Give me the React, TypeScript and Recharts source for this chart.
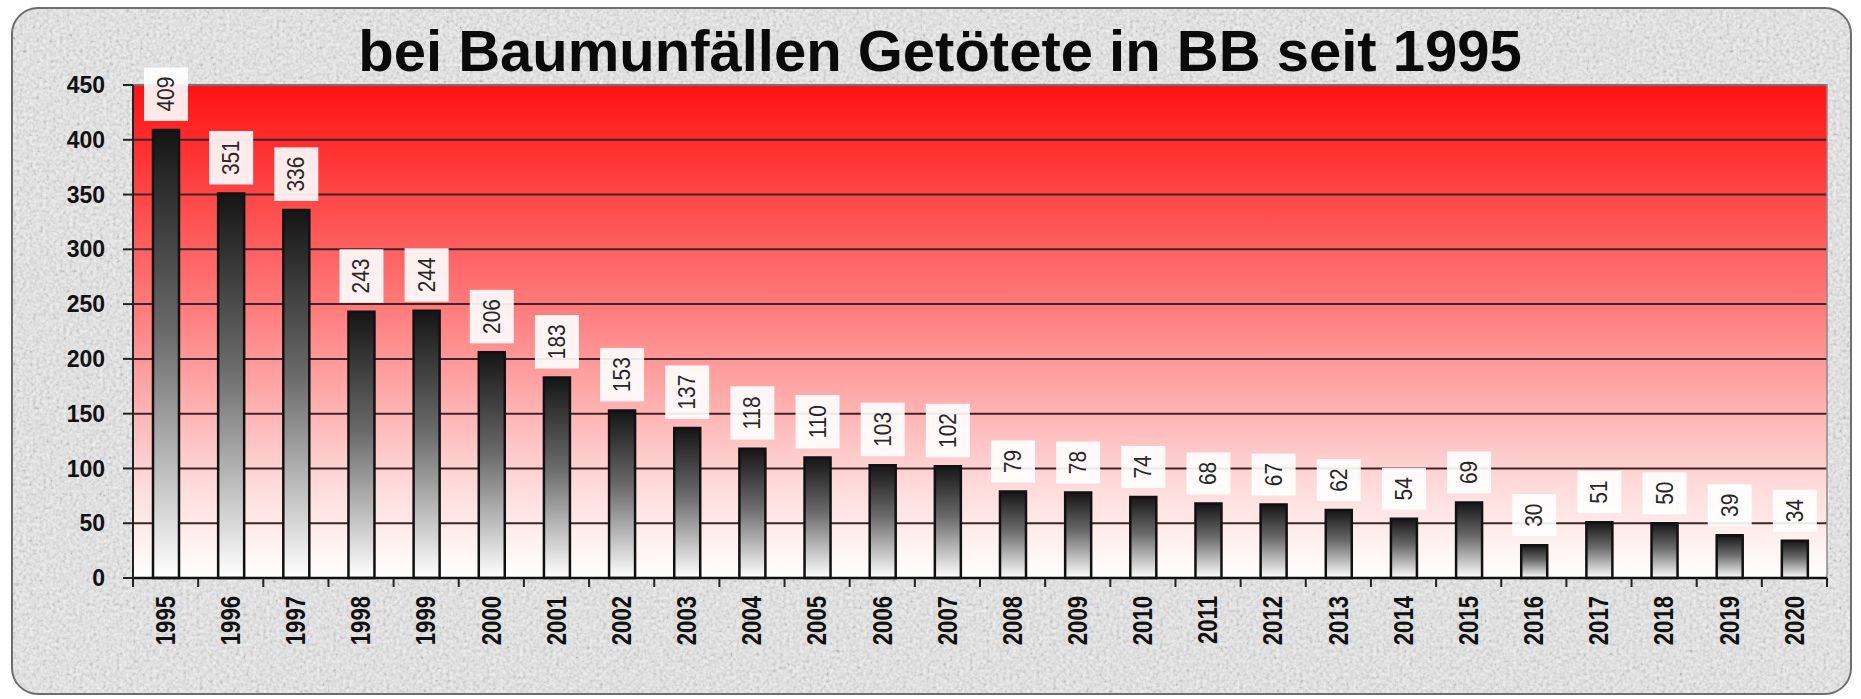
import React from 'react';
import { BarChart, Bar, XAxis, YAxis, CartesianGrid, LabelList, ReferenceArea } from 'recharts';

const title = 'bei Baumunfällen Getötete in BB seit 1995';
const years = ['1995', '1996', '1997', '1998', '1999', '2000', '2001', '2002', '2003', '2004', '2005', '2006', '2007', '2008', '2009', '2010', '2011', '2012', '2013', '2014', '2015', '2016', '2017', '2018', '2019', '2020'];
const killed = [409, 351, 336, 243, 244, 206, 183, 153, 137, 118, 110, 103, 102, 79, 78, 74, 68, 67, 62, 54, 69, 30, 51, 50, 39, 34];
const yTicks = [0, 50, 100, 150, 200, 250, 300, 350, 400, 450];

const data = years.map((year, i) => ({ year, killed: killed[i] }));

const W = 1861;
const H = 699;
const M = { top: 85, right: 34, bottom: 0, left: 0 };
const Y_AXIS_W = 133;
const X_AXIS_H = 121;
const PLOT_W = W - M.left - M.right - Y_AXIS_W;
const BAND = PLOT_W / years.length;

const SANS = "'Liberation Sans', Arial, sans-serif";

const XTick = (props: any) => {
  const { x, y, payload, index } = props;
  const last = index === years.length - 1;
  return (
    <g>
      <line x1={x - BAND / 2} x2={x - BAND / 2} y1={y} y2={y + 9} stroke="#222" strokeWidth={2} />
      {last && <line x1={x + BAND / 2} x2={x + BAND / 2} y1={y} y2={y + 9} stroke="#222" strokeWidth={2} />}
      <text
        transform={`translate(${x},${y + 18}) rotate(-90) scale(0.82,1)`}
        textAnchor="end"
        dominantBaseline="central"
        fontFamily={SANS}
        fontWeight="bold"
        fontSize={27}
        fill="#111"
      >
        {payload.value}
      </text>
    </g>
  );
};

const BarLabel = (props: any) => {
  const { x, y, width, value } = props;
  const s = String(value);
  const textLen = s.length * 11.5;
  const h = textLen + 19;
  const w = 44;
  const cx = x + width / 2;
  const bottom = y - 9;
  return (
    <g>
      <rect x={cx - w / 2} y={bottom - h} width={w} height={h} fill="#ffffff" fillOpacity={0.9} />
      <text
        transform={`translate(${cx},${bottom - h / 2}) rotate(-90) scale(0.87,1)`}
        textAnchor="middle"
        dominantBaseline="central"
        fontFamily={SANS}
        fontSize={24}
        fill="#262626"
      >
        {s}
      </text>
    </g>
  );
};

export default function App() {
  return (
    <div style={{ position: 'absolute', left: 0, top: 0, width: W, height: H, background: '#ffffff', overflow: 'hidden' }}>
      <svg width={W} height={H} style={{ position: 'absolute', left: 0, top: 0 }}>
        <defs>
          <filter id="speckle" x="0" y="0" width="100%" height="100%">
            <feTurbulence type="fractalNoise" baseFrequency="0.3" numOctaves="3" seed="7" result="n" />
            <feColorMatrix type="saturate" values="0" />
            <feComponentTransfer>
              <feFuncR type="linear" slope="2" intercept="-0.45" />
              <feFuncG type="linear" slope="2" intercept="-0.45" />
              <feFuncB type="linear" slope="2" intercept="-0.45" />
              <feFuncA type="linear" slope="0" intercept="1" />
            </feComponentTransfer>
          </filter>
          <clipPath id="frameClip">
            <rect x={12} y={8} width={1839} height={686} rx={26} ry={26} />
          </clipPath>
        </defs>
        <g clipPath="url(#frameClip)">
          <rect x={0} y={0} width={W} height={H} fill="#e8e8e8" />
          <rect x={0} y={0} width={W} height={H} filter="url(#speckle)" opacity={0.22} />
        </g>
        <rect x={12} y={8} width={1839} height={686} rx={26} ry={26} fill="none" stroke="#6e6e6e" strokeWidth={2} />
        <text x={940} y={71} textAnchor="middle" fontFamily={SANS} fontWeight="bold" fontSize={58} fill="#0a0a0a">
          {title}
        </text>
      </svg>
      <div style={{ position: 'absolute', left: 0, top: 0 }}>
        <BarChart width={W} height={H} data={data} margin={M} barCategoryGap={0}>
          <defs>
            <linearGradient id="plotBg" x1="0" y1="0" x2="0" y2="1">
              <stop offset="0%" stopColor="#ff1212" />
              <stop offset="45%" stopColor="#ff7b7b" />
              <stop offset="80%" stopColor="#ffd8d8" />
              <stop offset="100%" stopColor="#ffffff" />
            </linearGradient>
            <linearGradient id="barGrad" x1="0" y1="0" x2="0" y2="1">
              <stop offset="0%" stopColor="#151515" />
              <stop offset="45%" stopColor="#6a6a6a" />
              <stop offset="100%" stopColor="#ffffff" />
            </linearGradient>
          </defs>
          <CartesianGrid vertical={false} fill="url(#plotBg)" stroke="#3e2424" strokeWidth={2} />
          <ReferenceArea y1={0} y2={450} fill="none" stroke="#8a8a8a" strokeWidth={1.5} />
          <XAxis
            dataKey="year"
            interval={0}
            height={X_AXIS_H}
            tickSize={0}
            tickMargin={0}
            tickLine={false}
            axisLine={{ stroke: '#111', strokeWidth: 2.5 }}
            tick={<XTick />}
          />
          <YAxis
            width={Y_AXIS_W}
            domain={[0, 450]}
            ticks={yTicks}
            interval={0}
            tickSize={10}
            tickMargin={18}
            axisLine={{ stroke: '#222', strokeWidth: 2 }}
            tickLine={{ stroke: '#222', strokeWidth: 2 }}
            tick={{ fontFamily: SANS, fontWeight: 'bold', fontSize: 23, fill: '#111' }}
          />
          <Bar dataKey="killed" barSize={26} fill="url(#barGrad)" stroke="#111" strokeWidth={2.5} isAnimationActive={false}>
            <LabelList dataKey="killed" content={<BarLabel />} />
          </Bar>
        </BarChart>
      </div>
    </div>
  );
}
